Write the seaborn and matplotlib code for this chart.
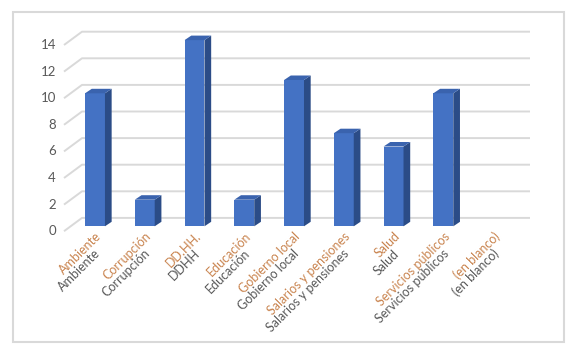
import numpy as np
import matplotlib
matplotlib.use("Agg")
import matplotlib.pyplot as plt
import seaborn as sns
from matplotlib.patches import Polygon, Rectangle

# ---- data ----
categories = ["Ambiente", "Corrupción", "DD.HH.", "Educación", "Gobierno local",
              "Salarios y pensiones", "Salud", "Servicios públicos", "(en blanco)"]
outer_labels = ["Ambiente", "Corrupción", "DDHH", "Educación", "Gobierno local",
                "Salarios y pensiones", "Salud", "Servicios públicos", "(en blanco)"]
values = [10, 2, 14, 2, 11, 7, 6, 10, 0]
y_ticks = [0, 2, 4, 6, 8, 10, 12, 14]

# ---- style ----
sns.set_style("white")
plt.rcParams["font.family"] = ["Lato", "DejaVu Sans"]
FRONT = "#4472C4"
SIDE = "#2B4C87"
TOP = "#3A63AE"
GRID = "#D9D9D9"
INNER_C = "#C9844F"
OUTER_C = "#595959"

W, H = 577, 347
fig = plt.figure(figsize=(W / 100, H / 100), dpi=100)
fig.patch.set_facecolor("white")

x_c0, x_step = 95.0, 49.76
y_zero, y_unit = 226.3, 13.3
ax_l, ax_r, ax_t, ax_b = 60, 535, 20, 230.0
ax = fig.add_axes([ax_l / W, (H - ax_b) / H, (ax_r - ax_l) / W, (ax_b - ax_t) / H])

sns.barplot(x=categories, y=values, order=categories, color=FRONT, saturation=1,
            width=0.4, errorbar=None, ax=ax, zorder=3, linewidth=0)
ax.set_xlim((ax_l - x_c0) / x_step, (ax_r - x_c0) / x_step)
ax.set_ylim((y_zero - ax_b) / y_unit, (y_zero - ax_t) / y_unit)
for s in ax.spines.values():
    s.set_visible(False)
ax.patch.set_visible(False)
ax.set_yticks([])
ax.set_xlabel("")
ax.set_ylabel("")

inv = ax.transData.inverted()


def to_data(disp_pts):
    return inv.transform(np.asarray(disp_pts, dtype=float))


bdx, bdy = 6.7, 4.5
for p in ax.patches:
    x, w, h = p.get_x(), p.get_width(), p.get_height()
    if h <= 0:
        p.set_visible(False)
        continue
    A = ax.transData.transform((x + w, 0))
    B = ax.transData.transform((x + w, h))
    L = ax.transData.transform((x, h))
    d = np.array([bdx, bdy])
    side = to_data([A, B, B + d, A + d])
    top = to_data([L, B, B + d, L + d])
    ax.add_patch(Polygon(side, closed=True, facecolor=SIDE, edgecolor="none", zorder=3))
    ax.add_patch(Polygon(top, closed=True, facecolor=TOP, edgecolor="none", zorder=3))

back_x0, back_x1, front_x = 82.0, 530.0, 64.0
back_up, front_down = 8.4, 4.9
for v in y_ticks:
    Y = ax.transData.transform((0, v))[1]
    pts = to_data([(front_x, Y - front_down), (back_x0, Y + back_up), (back_x1, Y + back_up)])
    ax.plot(pts[:, 0], pts[:, 1], color=GRID, lw=1.4, zorder=1, clip_on=False,
            solid_capstyle="butt")
    lp = to_data([(56.0, Y - front_down)])[0]
    ax.text(lp[0], lp[1], str(v), ha="right", va="center", fontsize=9.5,
            color=OUTER_C)

# inner level: x tick labels
pos = np.arange(len(categories))
ax.set_xticks(pos)
ax.set_xticklabels(categories, rotation=45, ha="right", rotation_mode="anchor",
                   fontsize=9, color=INNER_C)
ax.tick_params(axis="x", length=0, pad=0)

# outer level: rotated text below
for i, outer in enumerate(outer_labels):
    base = ax.transData.transform((i, 0))
    p2 = to_data([base + np.array([-1.0, -21.0])])[0]
    t = ax.text(p2[0], p2[1], outer, ha="right", va="top", fontsize=9,
                color=OUTER_C, clip_on=False)
    t.set_rotation_mode("anchor")
    t.set_rotation(45.0)

fig.add_artist(Rectangle((13 / W, (H - 342) / H), (564 - 13) / W, (342 - 12) / H,
                         transform=fig.transFigure, fill=False, edgecolor=GRID, lw=1.5))

fig.savefig("out.png", dpi=100)
